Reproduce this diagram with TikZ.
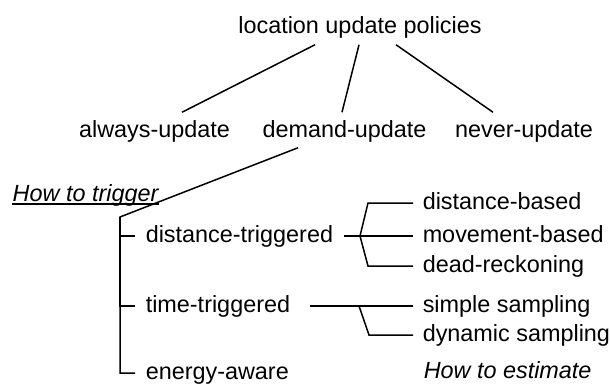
\documentclass[tikz,border=0pt]{standalone}
\usepackage{fontspec}
\setmainfont{Liberation Sans}
\usetikzlibrary{calc}
\tikzstyle{term} = [
  inner sep=0pt,
  text height=8.5pt,
  text depth=2.5pt,
  font=\fontsize{11.7}{14}\selectfont,
]
\tikzstyle{question} = [
  term,
  font=\fontsize{11.7}{14}\selectfont\itshape,
]
\tikzstyle{branch} = [
  line width=0.75pt,
]

\begin{document}
\begin{tikzpicture}[
    x=0.5pt,
    y=-0.5pt,
    every path/.style={branch},
  ]
  \useasboundingbox (0,0) rectangle (610,391);
  % top level
  \node[term, anchor=base] (policies) at (360,33) {location update policies};
  \node[term, anchor=base] (always) at (154.5,137) {always-update};
  \node[term, anchor=base] (demand) at (344.5,137) {demand-update};
  \node[term, anchor=base] (never) at (524,137) {never-update};
  \draw ($(policies.south)+(-45,6)$) -- ($(always.north)+(27.5,-7)$);
  \draw ($(policies.south)+(-1,6)$) -- ($(demand.north)+(-2.5,-7)$);
  \draw ($(policies.south)+(36,6)$) -- ($(never.north)+(-31,-7)$);
  % how to trigger
  \node[question, anchor=base west] (howtrig) at (12,201) {How to trigger};
  \draw ([yshift=-1.5pt]howtrig.base west) -- ([yshift=-1.5pt]howtrig.base east);
  \node[term, anchor=base west] (dtrig) at (145,242) {distance-triggered};
  \node[term, anchor=base west] (ttrig) at (145,312) {time-triggered};
  \node[term, anchor=base west] (energy) at (145,379) {energy-aware};
  \coordinate (spine) at (120,217);
  \draw ($(demand.south)+(-46.5,5)$) -- (spine) |- ([xshift=-5pt]energy.west);
  \draw (spine) |- ([xshift=-5pt]dtrig.west);
  \draw (spine) |- ([xshift=-5pt]ttrig.west);
  % how to estimate
  \node[term, anchor=base west] (distbased) at (422,209) {distance-based};
  \node[term, anchor=base west] (movement) at (422,242) {movement-based};
  \node[term, anchor=base west] (deadreck) at (422,272) {dead-reckoning};
  \node[term, anchor=base west] (simple) at (422,312) {simple sampling};
  \node[term, anchor=base west] (dynamic) at (422,341) {dynamic sampling};
  \node[question, anchor=base west] (howest) at (423,378) {How to estimate};
  \coordinate (dfork) at (360,236);
  \draw ([xshift=5pt]dtrig.east) -- ([xshift=-4.5pt]movement.west);
  \draw (dfork) -- ([xshift=-27pt]distbased.west) -- ([xshift=-4.5pt]distbased.west);
  \draw (dfork) -- ([xshift=-27pt]deadreck.west) -- ([xshift=-4.5pt]deadreck.west);
  \coordinate (tfork) at (359,306);
  \draw ([xshift=9.5pt]ttrig.east) -- ([xshift=-4.5pt]simple.west);
  \draw (tfork) -- ([xshift=-26.5pt]dynamic.west) -- ([xshift=-4.5pt]dynamic.west);
\end{tikzpicture}
\end{document}
